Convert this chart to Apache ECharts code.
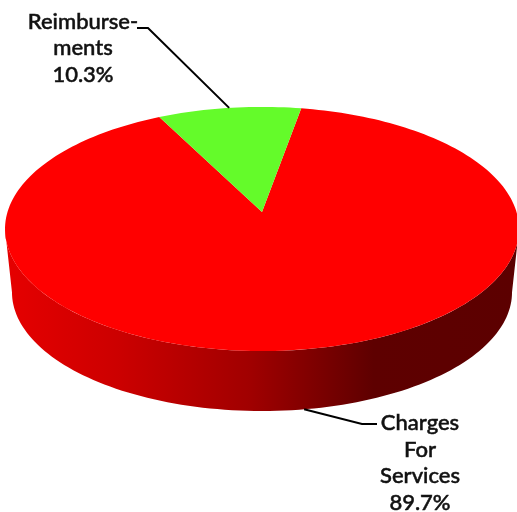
<!DOCTYPE html>
<html>
<head>
<meta charset="utf-8">
<style>html,body{margin:0;padding:0;background:#fff}#c{width:517px;height:512px}</style>
<script src="https://cdn.jsdelivr.net/npm/echarts@6/dist/echarts.min.js"></script>
</head>
<body>
<div id="c"></div>
<script>
const categories = ['Charges For Services', 'Reimbursements'];
const values = [89.7, 10.3];
const labels = ['Charges\nFor\nServices\n89.7%', 'Reimburse-\nments\n10.3%'];
const topColors = ['#ff0000', '#64fb2a'];
const startAngle = 10.1;

// disc projection (unit circle -> picture)
const K = 0.139;
const TOP = {cx: 262, cy: 212, a: 254.5, b: 119.7};
const BOTTOM = {cx: 262, cy: 275.7, a: 247.6, b: 116.5};
// the wall is visible only between these disc angles (the discs' widest points)
const WALL_FROM = 98, WALL_TO = 262;
// leader lines: which rim, elbow, end; label centre
const leaders = [
  {rim: BOTTOM, elbow: [362, 424], end: [377, 424], text: [420, 463]},
  {rim: TOP, elbow: [148, 28], end: [137, 28], text: [83, 48]}
];

function project(disc, deg) {
  const t = deg * Math.PI / 180, u = Math.sin(t), v = -Math.cos(t), w = 1 - K * v;
  return [disc.cx + disc.a * u / w, disc.cy + disc.b * v / w];
}
function arc(disc, from, to) {
  const pts = [], n = Math.max(2, Math.ceil(Math.abs(to - from) / 1.5));
  for (let i = 0; i <= n; i++) pts.push(project(disc, from + (to - from) * i / n));
  return pts;
}
const total = values.reduce((a, b) => a + b, 0);
let running = startAngle;
const sliceData = values.map((val, i) => {
  const from = running, to = running + val / total * 360;
  running = to;
  return {name: categories[i], value: [i, from, to]};
});
const sideFill = {
  type: 'linear', x: 5, y: 0, x2: 517, y2: 0, global: true,
  colorStops: [
    {offset: 0, color: '#e60000'},
    {offset: 0.22, color: '#cc0000'},
    {offset: 0.48, color: '#a00000'},
    {offset: 0.72, color: '#5e0000'},
    {offset: 1, color: '#5c0000'}
  ]
};
const base = {type: 'custom', coordinateSystem: 'none', silent: true, animation: false, clip: false, data: sliceData};

const option = {
  backgroundColor: '#ffffff',
  animation: false,
  series: [
    Object.assign({}, base, {
      name: 'side',
      renderItem(params, api) {
        const from = Math.max(api.value(1), WALL_FROM), to = Math.min(api.value(2), WALL_TO);
        if (to <= from) return null;
        return {type: 'polygon',
          shape: {points: arc(TOP, from, to).concat(arc(BOTTOM, from, to).reverse())},
          style: {fill: sideFill}};
      }
    }),
    Object.assign({}, base, {
      name: 'top',
      renderItem(params, api) {
        const i = api.value(0), from = api.value(1), to = api.value(2);
        return {type: 'polygon',
          shape: {points: [[TOP.cx, TOP.cy]].concat(arc(TOP, from, to))},
          style: {fill: topColors[i]}};
      }
    }),
    Object.assign({}, base, {
      name: 'labels',
      renderItem(params, api) {
        const i = api.value(0), mid = (api.value(1) + api.value(2)) / 2, l = leaders[i];
        return {type: 'group', children: [
          {type: 'polyline',
           shape: {points: [project(l.rim, mid), l.elbow, l.end]},
           style: {stroke: '#000', lineWidth: 2, fill: null}},
          {type: 'text', x: l.text[0], y: l.text[1],
           style: {text: labels[i], fill: '#111', stroke: '#111', lineWidth: 0.5,
                   font: '500 22px Lato, sans-serif',
                   lineHeight: 26.5, align: 'center', verticalAlign: 'middle'}}
        ]};
      }
    })
  ]
};
echarts.init(document.getElementById('c'), null, {renderer: 'canvas'}).setOption(option);
</script>
</body>
</html>
